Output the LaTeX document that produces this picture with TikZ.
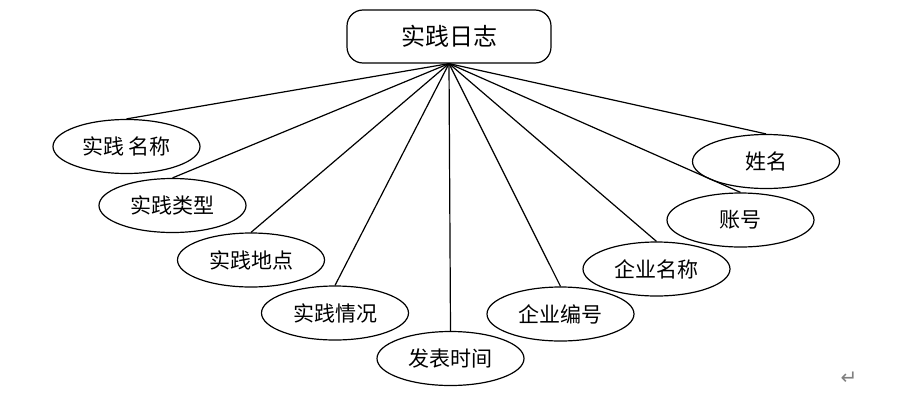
\documentclass[tikz,border=0pt]{standalone}
\usepackage{fontspec}
\newfontfamily\cjk{Noto Sans CJK SC}
\newfontfamily\symb{DejaVu Sans}
\usetikzlibrary{shapes.geometric, positioning}

\begin{document}
\begin{tikzpicture}[
    x=1pt, y=-1pt,
    entity/.style={rectangle, draw, rounded corners=16pt, line width=1.2pt, minimum width=204pt, minimum height=53pt, inner sep=0pt, font=\cjk\fontsize{24}{24}\selectfont},
    attr/.style={ellipse, draw, line width=1.2pt, minimum width=147pt, minimum height=54pt, inner sep=0pt, font=\cjk\fontsize{21}{21}\selectfont},
    link/.style={line width=1.2pt}
]
\useasboundingbox (0,0) rectangle (899,399);

\node[entity] (log) at (449,36.5) {实践日志};

\node[attr] (pname) at (126.5,146.5) {实践 名称};
\node[attr] (ptype) at (172.5,205.5) {实践类型};
\node[attr] (pplace) at (251,260) {实践地点};
\node[attr] (pstate) at (335,313) {实践情况};
\node[attr] (ptime) at (450.5,358.5) {发表时间};
\node[attr] (cno) at (560.5,314) {企业编号};
\node[attr] (cname) at (656.5,269) {企业名称};
\node[attr] (account) at (740.5,220) {账号};
\node[attr] (uname) at (766,161.5) {姓名};

\draw[link] (log.south) -- (pname.north);
\draw[link] (log.south) -- (ptype.north);
\draw[link] (log.south) -- (pplace.north);
\draw[link] (log.south) -- (pstate.north);
\draw[link] (log.south) -- (ptime.north);
\draw[link] (log.south) -- (cno.north);
\draw[link] (log.south) -- (cname.north);
\draw[link] (log.south) -- (account.north);
\draw[link] (log.south) -- (uname.north);

% paragraph mark
\node[text=gray, font=\symb\fontsize{20}{20}\selectfont] (retmark) at (849,378) {↵};
\end{tikzpicture}
\end{document}
